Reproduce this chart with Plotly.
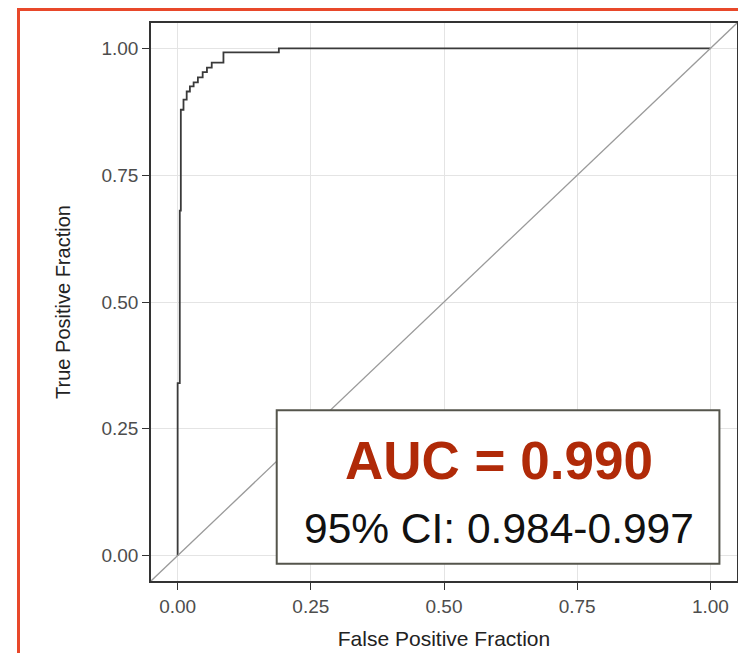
import plotly.graph_objects as go

# ROC curve corner points (false positive fraction, true positive fraction)
fpr = [0.0, 0.004, 0.006, 0.011, 0.017, 0.023, 0.030, 0.038, 0.047, 0.055, 0.064, 0.086, 0.19, 1.0]
tpr = [0.0, 0.34, 0.68, 0.879, 0.899, 0.915, 0.925, 0.933, 0.943, 0.953, 0.962, 0.972, 0.992, 1.0]

tick_vals = [0.0, 0.25, 0.50, 0.75, 1.0]
tick_text = ["0.00", "0.25", "0.50", "0.75", "1.00"]
axis_range = [-0.05, 1.05]

auc_text = "AUC = 0.990"
ci_text = "95% CI: 0.984-0.997"

W, H = 746, 653
OFF = 8  # page body margin offset
ml, mt = 151 - OFF, 23 - OFF
pw, ph = 586, 558
mr = W - ml - pw
mb = H - mt - ph

fig = go.Figure()

# chance diagonal across the whole panel
fig.add_shape(type="line", xref="x", yref="y",
              x0=axis_range[0], y0=axis_range[0], x1=axis_range[1], y1=axis_range[1],
              line=dict(color="#9a9a9a", width=1.3), layer="above")

fig.add_trace(go.Scatter(x=fpr, y=tpr, mode="lines", line_shape="vh",
                         line=dict(color="#3a3a3a", width=1.8),
                         hoverinfo="skip", showlegend=False))

# annotation box
fig.add_shape(type="rect", xref="x", yref="y", x0=0.186, x1=1.017, y0=-0.016, y1=0.2866,
              line=dict(color="#55554c", width=2), fillcolor="white", layer="above")

fig.add_annotation(x=0.6024, y=0.188, xref="x", yref="y", text="<b>" + auc_text + "</b>",
                   showarrow=False, font=dict(family="Liberation Sans, Arial", size=53, color="#b02a08"),
                   xanchor="center", yanchor="middle")
fig.add_annotation(x=0.6024, y=0.054, xref="x", yref="y", text=ci_text,
                   showarrow=False, font=dict(family="Liberation Sans, Arial", size=42.5, color="#111111"),
                   xanchor="center", yanchor="middle")

# orange outer border (paper coordinates, from page pixels)
def px2paper_x(px):
    return (px - OFF - ml) / pw
def py2paper_y(py):
    return (H - mb - (py - OFF)) / ph

fig.add_shape(type="rect", xref="paper", yref="paper",
              x0=px2paper_x(18.5), x1=px2paper_x(820), y0=py2paper_y(760), y1=py2paper_y(9.5),
              line=dict(color="#e8482a", width=3), fillcolor="rgba(0,0,0,0)")

axis_common = dict(
    range=axis_range, tickvals=tick_vals, ticktext=tick_text,
    showgrid=True, gridcolor="#e4e4e4", gridwidth=1.2,
    zeroline=False, showline=True, mirror=True, linecolor="#333333", linewidth=1.5,
    ticks="outside", ticklen=7, tickwidth=1.3, tickcolor="#333333",
    tickfont=dict(family="Liberation Sans, Arial", size=19, color="#4d4d4d"),
    fixedrange=True, automargin=False,
)

fig.update_xaxes(**axis_common,
                 title=dict(text="False Positive Fraction", standoff=16,
                            font=dict(family="Liberation Sans, Arial", size=21, color="#222222")))
fig.update_yaxes(**axis_common,
                 title=dict(text="True Positive Fraction", standoff=25,
                            font=dict(family="Liberation Sans, Arial", size=20, color="#222222")))

fig.update_layout(width=W, height=H, margin=dict(l=ml, r=mr, t=mt, b=mb, autoexpand=False),
                  plot_bgcolor="white", paper_bgcolor="white", showlegend=False)

fig.write_html("out.html")
